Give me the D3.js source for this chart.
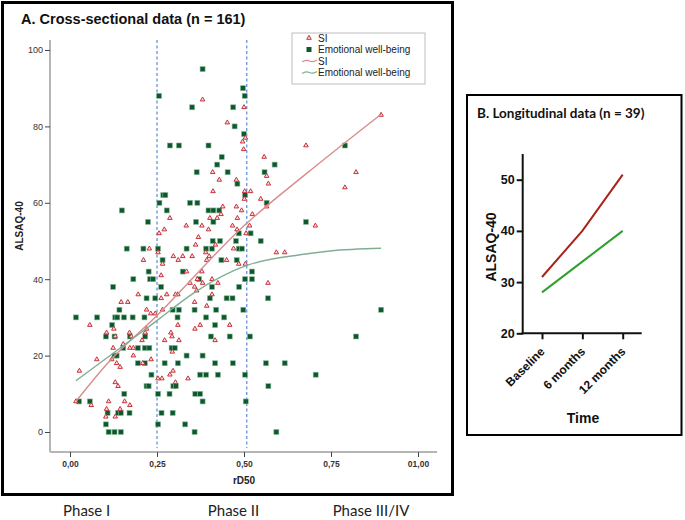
<!DOCTYPE html>
<html><head><meta charset="utf-8">
<script src="https://cdn.jsdelivr.net/npm/d3@7/dist/d3.min.js"></script>
<style>body{margin:0;background:#fff}svg{display:block}</style>
</head><body><svg id="c" width="685" height="520"></svg>
<script>
// ---------- Panel A data ----------
const xTicks = [0, 0.25, 0.5, 0.75, 1.0];
const xTickLabels = ["0,00", "0,25", "0,50", "0,75", "01,00"];
const yTicks = [0, 20, 40, 60, 80, 100];
const phaseCuts = [0.25, 0.508];
const phaseLabels = ["Phase I", "Phase II", "Phase III/IV"];
const phaseCenters = [0.048, 0.47, 0.865];

// Emotional well-being points [rD50, ALSAQ-40]
const ewbPoints = [
[0.256,88],[0.149,58],[0.224,55],[0.257,60],
[0.381,95],[0.351,85],[0.469,85],[0.497,90],[0.502,88],[0.473,80],[0.5,78],[0.287,75],[0.313,75],[0.398,75],[0.436,72],[0.423,70],[0.364,68],[0.453,68],[0.481,65],[0.588,70],[0.559,68],[0.268,62],[0.274,62],[0.503,62],[0.278,58],[0.345,60],[0.366,60],[0.398,58],[0.412,58],[0.429,58],[0.362,55],[0.412,55],[0.565,60],[0.485,52],[0.519,52],[0.41,50],[0.431,50],[0.477,50],[0.548,50],[0.335,48],[0.391,48],[0.408,48],[0.485,48],[0.494,48],
[0.266,45],[0.435,45],[0.479,45],[0.523,42],[0.523,40],[0.503,40],[0.324,42],[0.371,40],[0.408,38],[0.486,38],[0.262,38],[0.402,35],[0.45,35],[0.467,35],[0.569,35],[0.295,32],[0.313,32],[0.358,32],[0.42,32],[0.498,32],[0.309,30],[0.391,30],[0.443,30],[0.417,28],[0.405,25],[0.459,25],[0.517,25],[0.292,22],[0.301,22],[0.335,20],[0.381,20],[0.272,18],[0.31,18],[0.417,18],[0.468,18],[0.563,18],[0.617,18],[0.374,15],[0.391,15],[0.425,15],[0.503,15],[0.297,12],[0.304,12],[0.57,12],[0.286,10],[0.36,10],[0.374,10],[0.381,8],[0.505,8],[0.263,5],[0.295,5],[0.331,2],[0.358,0],[0.593,0],
[0.163,48],[0.211,48],[0.253,48],[0.226,42],[0.182,40],[0.23,40],[0.239,40],[0.124,38],[0.22,35],[0.245,35],[0.142,32],[0.017,30],[0.078,30],[0.13,30],[0.136,30],[0.155,30],[0.18,30],[0.214,30],[0.121,28],[0.103,25],[0.128,25],[0.172,25],[0.216,25],[0.153,22],[0.195,22],[0.215,22],[0.228,22],[0.128,20],[0.134,20],[0.195,18],[0.215,18],[0.234,15],[0.22,12],[0.226,12],[0.156,10],[0.253,10],[0.026,8],[0.057,8],[0.108,5],[0.138,5],[0.146,5],[0.171,5],[0.103,2],[0.111,0],[0.128,0],[0.146,0],[0.253,2],
[0.79,75],[0.678,55],[0.894,32],[0.822,25],[0.706,15]
];

// SI points [rD50, ALSAQ-40]
const siPoints = [
[0.256,52],
[0.381,87],[0.452,81],[0.5,85],[0.496,76],[0.504,77],[0.499,74],[0.558,72],[0.41,68],[0.429,66],[0.478,66],[0.565,67],[0.57,65],[0.411,63],[0.502,63],[0.519,63],[0.501,61],[0.548,61],[0.565,59],[0.439,59],[0.478,59],[0.493,58],[0.402,56],[0.434,57],[0.423,56],[0.481,56],[0.524,57],[0.287,56],[0.334,54],[0.379,54],[0.467,54],[0.516,54],[0.48,53],[0.271,53],[0.398,53],[0.369,51],[0.506,52],[0.361,49],[0.418,49],[0.47,48],
[0.297,46],[0.324,46],[0.351,46],[0.311,45],[0.39,47],[0.4,46],[0.393,45],[0.593,47],[0.617,47],[0.504,44],[0.485,44],[0.45,45],[0.335,42],[0.266,44],[0.262,41],[0.379,42],[0.366,40],[0.381,39],[0.408,40],[0.425,39],[0.345,39],[0.358,38],[0.364,37],[0.408,36],[0.303,36],[0.31,36],[0.278,36],[0.262,35],[0.569,39],[0.358,34],[0.393,33],[0.266,32],[0.31,28],[0.359,27],[0.374,28],[0.459,28],[0.29,26],[0.293,25],[0.272,24],[0.313,24],[0.417,24],[0.294,21],[0.296,16],[0.287,15],[0.264,14],[0.339,14],[0.303,13],
[0.228,48],[0.211,45],[0.253,47],[0.196,36],[0.147,34],[0.166,34],[0.22,32],[0.232,31],[0.245,31],[0.057,28],[0.126,27],[0.105,26],[0.171,26],[0.216,26],[0.22,27],[0.13,25],[0.176,25],[0.207,24],[0.124,22],[0.172,22],[0.182,22],[0.153,23],[0.077,19],[0.12,19],[0.134,18],[0.144,17],[0.182,20],[0.233,19],[0.209,18],[0.027,16],[0.253,14],[0.13,13],[0.138,12],[0.017,8],[0.061,7],[0.111,8],[0.157,8],[0.172,7],[0.105,6],[0.144,6],[0.103,4],[0.13,4],
[0.678,75],[0.894,83],[0.822,68],[0.79,64],[0.705,54]
];

// Fit curves
const siFitX  = [0.017, 0.11, 0.25, 0.5, 0.68, 0.894];
const siFitY  = [8, 18.2, 30.5, 54, 67.7, 83.2];
const ewbFitX = [0.017, 0.124, 0.259, 0.354, 0.508, 0.661, 0.747, 0.894];
const ewbFitY = [13.4, 20.6, 29.8, 36.3, 43.6, 46.4, 47.4, 48.1];

const legendLabels = ["SI", "Emotional well-being", "SI", "Emotional well-being"];

// ---------- Panel B data ----------
const timepoints = ["Baseline", "6 months", "12 months"];
const siLong  = [31, 40, 51];
const ewbLong = [28, 34, 40];
const yTicksB = [20, 30, 40, 50];

// ---------- colours ----------
const cSI = "#c8323a", cSIfill = "#fbe0e0", cEWB = "#0c5a2c";
const cSIline = "#d98c8c", cEWBline = "#80ae95";
const ARIAL = "'Liberation Sans', Arial, sans-serif";
const CAL = "Lato, 'Open Sans', sans-serif";

const svg = d3.select("#c");

// ================= Panel A =================
svg.append("rect").attr("x", 2.5).attr("y", 2.5).attr("width", 450).attr("height", 492)
  .attr("fill", "none").attr("stroke", "#000").attr("stroke-width", 3);

svg.append("text").attr("x", 21).attr("y", 24).attr("font-family", ARIAL)
  .attr("font-weight", "bold").attr("font-size", 14.5).attr("fill", "#111")
  .text("A. Cross-sectional data (n = 161)");

const x = d3.scaleLinear().domain([0, 1]).range([70, 418]);
const y = d3.scaleLinear().domain([0, 100]).range([432, 50]);

const gA = svg.append("g");
gA.append("line").attr("x1", 50).attr("x2", 50).attr("y1", 40).attr("y2", 452)
  .attr("stroke", "#b5b5b5").attr("stroke-width", 2);
gA.append("line").attr("x1", 50).attr("x2", 437).attr("y1", 452).attr("y2", 452)
  .attr("stroke", "#b5b5b5").attr("stroke-width", 2);

const yAx = gA.append("g").attr("transform", "translate(50,0)")
  .call(d3.axisLeft(y).tickValues(yTicks).tickSize(5).tickPadding(2));
yAx.select(".domain").remove();
yAx.selectAll("line").attr("stroke", "#444");
yAx.selectAll("text").attr("font-family", ARIAL).attr("font-size", 9).attr("fill", "#333");

const xAx = gA.append("g").attr("transform", "translate(0,452)")
  .call(d3.axisBottom(x).tickValues(xTicks).tickSize(5).tickPadding(4)
    .tickFormat((d, i) => xTickLabels[i]));
xAx.select(".domain").remove();
xAx.selectAll("line").attr("stroke", "#444");
xAx.selectAll("text").attr("font-family", ARIAL).attr("font-size", 8.5)
  .attr("font-weight", "bold").attr("fill", "#333");

gA.append("text").attr("x", x(0.5)).attr("y", 484).attr("text-anchor", "middle")
  .attr("font-family", ARIAL).attr("font-weight", "bold").attr("font-size", 10).attr("fill", "#222")
  .text("rD50");
gA.append("text").attr("transform", "translate(23,226) rotate(-90)").attr("text-anchor", "middle")
  .attr("font-family", ARIAL).attr("font-weight", "bold").attr("font-size", 10).attr("fill", "#222")
  .text("ALSAQ-40");

gA.selectAll(".cut").data(phaseCuts).join("line")
  .attr("x1", d => x(d)).attr("x2", d => x(d)).attr("y1", 40).attr("y2", 448)
  .attr("stroke", "#4d7fd0").attr("stroke-width", 1.1).attr("stroke-dasharray", "3,2.5");

gA.selectAll(".ewb").data(ewbPoints).join("rect")
  .attr("x", d => x(d[0]) - 2.5).attr("y", d => y(d[1]) - 2.5)
  .attr("width", 5).attr("height", 5)
  .attr("fill", cEWB).attr("stroke", "#8fb89e").attr("stroke-width", 0.6);

const tri = d3.symbol().type(d3.symbolTriangle).size(9);
gA.selectAll(".si").data(siPoints).join("path")
  .attr("d", tri).attr("transform", d => `translate(${x(d[0])},${y(d[1])})`)
  .attr("fill", cSIfill).attr("stroke", cSI).attr("stroke-width", 1);

const lineA = d3.line().x(d => x(d[0])).y(d => y(d[1])).curve(d3.curveMonotoneX);
gA.append("path").datum(siFitX.map((v, i) => [v, siFitY[i]])).attr("d", lineA)
  .attr("fill", "none").attr("stroke", cSIline).attr("stroke-width", 1.4);
gA.append("path").datum(ewbFitX.map((v, i) => [v, ewbFitY[i]])).attr("d", lineA)
  .attr("fill", "none").attr("stroke", cEWBline).attr("stroke-width", 1.4);

// legend
const lg = svg.append("g");
lg.append("rect").attr("x", 292).attr("y", 33).attr("width", 133).attr("height", 51)
  .attr("fill", "#fff").attr("stroke", "#bdbdbd").attr("stroke-width", 1);
const rowsY = [38, 49.5, 61, 72.5];
lg.append("path").attr("d", d3.symbol().type(d3.symbolTriangle).size(9))
  .attr("transform", `translate(309,${rowsY[0]})`).attr("fill", cSIfill).attr("stroke", cSI).attr("stroke-width", 1);
lg.append("rect").attr("x", 306.5).attr("y", rowsY[1] - 2.5).attr("width", 5).attr("height", 5).attr("fill", cEWB);
const wave = d3.line().curve(d3.curveBasis);
[2, 3].forEach(k => {
  const yy = rowsY[k];
  lg.append("path").attr("d", wave([[302, yy + 1], [307, yy - 1.5], [312, yy + 1.5], [317, yy - 1]]))
    .attr("fill", "none").attr("stroke", k === 2 ? cSIline : cEWBline).attr("stroke-width", 1.2);
});
lg.selectAll(".lt").data(legendLabels).join("text")
  .attr("x", 318).attr("y", (d, i) => rowsY[i] + 3.5)
  .attr("font-family", ARIAL).attr("font-size", 10).attr("fill", "#222").text(d => d);

svg.selectAll(".ph").data(phaseLabels).join("text")
  .attr("x", (d, i) => x(phaseCenters[i])).attr("y", 516).attr("text-anchor", "middle")
  .attr("font-family", CAL).attr("font-size", 15).attr("fill", "#222").text(d => d);

// ================= Panel B =================
svg.append("rect").attr("x", 467).attr("y", 95).attr("width", 214.5).attr("height", 340)
  .attr("fill", "none").attr("stroke", "#000").attr("stroke-width", 2);
svg.append("text").attr("x", 477).attr("y", 118).attr("font-family", CAL)
  .attr("font-weight", "bold").attr("font-size", 13.5).attr("fill", "#111")
  .text("B. Longitudinal data (n = 39)");

const yB = d3.scaleLinear().domain([20, 55]).range([333.3, 154.1]);
const xB = d3.scalePoint().domain(timepoints).range([542, 622.7]);

svg.append("line").attr("x1", 522.7).attr("x2", 522.7).attr("y1", 154).attr("y2", 334.3)
  .attr("stroke", "#111").attr("stroke-width", 2);
svg.append("line").attr("x1", 521.7).attr("x2", 641.7).attr("y1", 333.3).attr("y2", 333.3)
  .attr("stroke", "#111").attr("stroke-width", 2);

const yAxB = svg.append("g").attr("transform", "translate(522.7,0)")
  .call(d3.axisLeft(yB).tickValues(yTicksB).tickSize(6).tickPadding(2));
yAxB.select(".domain").remove();
yAxB.selectAll("line").attr("stroke", "#111").attr("stroke-width", 2);
yAxB.selectAll("text").attr("font-family", ARIAL).attr("font-weight", "bold")
  .attr("font-size", 12.5).attr("fill", "#111");

const xAxB = svg.append("g").attr("transform", "translate(0,333.3)")
  .call(d3.axisBottom(xB).tickSize(6).tickPadding(3));
xAxB.select(".domain").remove();
xAxB.selectAll("line").attr("stroke", "#111").attr("stroke-width", 2);
xAxB.selectAll("text").attr("font-family", ARIAL).attr("font-weight", "bold")
  .attr("font-size", 12).attr("fill", "#111")
  .attr("text-anchor", "end").attr("y", 0).attr("dy", 0)
  .attr("transform", "translate(3,19) rotate(-45)");

svg.append("text").attr("x", 583).attr("y", 423).attr("text-anchor", "middle")
  .attr("font-family", ARIAL).attr("font-weight", "bold").attr("font-size", 14).attr("fill", "#111")
  .text("Time");
svg.append("text").attr("transform", "translate(496,247) rotate(-90)").attr("text-anchor", "middle")
  .attr("font-family", ARIAL).attr("font-weight", "bold").attr("font-size", 14).attr("fill", "#111")
  .text("ALSAQ-40");

const lineB = d3.line().x((d, i) => xB(timepoints[i])).y(d => yB(d));
svg.append("path").datum(siLong).attr("d", lineB).attr("fill", "none")
  .attr("stroke", "#a8231c").attr("stroke-width", 2);
svg.append("path").datum(ewbLong).attr("d", lineB).attr("fill", "none")
  .attr("stroke", "#2fa02c").attr("stroke-width", 2);
</script></body></html>
